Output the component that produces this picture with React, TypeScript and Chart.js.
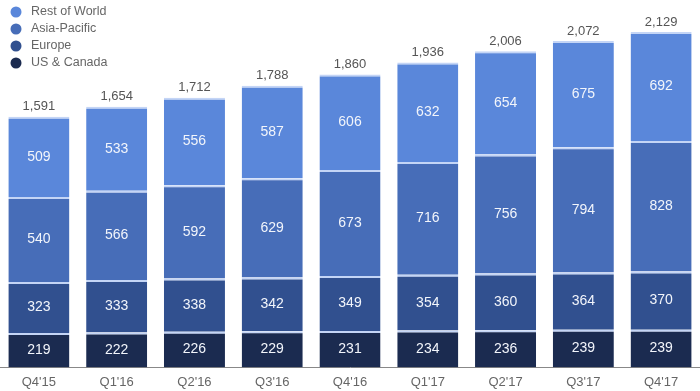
import React, { useEffect, useRef } from "react";
import { Chart, registerables } from "chart.js";

Chart.register(...registerables);

const categories = ["Q4'15", "Q1'16", "Q2'16", "Q3'16", "Q4'16", "Q1'17", "Q2'17", "Q3'17", "Q4'17"];
const usCanada = [219, 222, 226, 229, 231, 234, 236, 239, 239];
const europe = [323, 333, 338, 342, 349, 354, 360, 364, 370];
const asiaPacific = [540, 566, 592, 629, 673, 716, 756, 794, 828];
const restOfWorld = [509, 533, 556, 587, 606, 632, 654, 675, 692];
const totals = [1591, 1654, 1712, 1788, 1860, 1936, 2006, 2072, 2129];

const COLORS = {
  row: "#5a87da",
  ap: "#476db8",
  eu: "#31508f",
  us: "#1b2b50",
};

const FONT = "'Liberation Sans', Arial, Helvetica, sans-serif";

const labelPlugin = {
  id: "labels",
  afterDatasetsDraw(chart: any) {
    const ctx = chart.ctx;
    ctx.save();
    ctx.textAlign = "center";
    ctx.textBaseline = "middle";
    chart.data.datasets.forEach((ds: any, di: number) => {
      const meta = chart.getDatasetMeta(di);
      meta.data.forEach((bar: any, i: number) => {
        const v = ds.data[i];
        const cy = (bar.y + bar.base) / 2;
        ctx.fillStyle = "#f2f5fb";
        ctx.font = `14px ${FONT}`;
        ctx.fillText(String(v), bar.x, cy);
      });
    });
    const topMeta = chart.getDatasetMeta(chart.data.datasets.length - 1);
    topMeta.data.forEach((bar: any, i: number) => {
      ctx.fillStyle = "#555555";
      ctx.font = `13px ${FONT}`;
      ctx.fillText(totals[i].toLocaleString("en-US"), bar.x, bar.y - 10);
    });
    // legend
    const items = [
      { label: "Rest of World", color: COLORS.row },
      { label: "Asia-Pacific", color: COLORS.ap },
      { label: "Europe", color: COLORS.eu },
      { label: "US & Canada", color: COLORS.us },
    ];
    items.forEach((it, k) => {
      const y = 12 + k * 17;
      ctx.beginPath();
      ctx.fillStyle = it.color;
      ctx.arc(16, y, 5.5, 0, Math.PI * 2);
      ctx.fill();
      ctx.fillStyle = "#666666";
      ctx.font = `12.5px ${FONT}`;
      ctx.textAlign = "left";
      ctx.fillText(it.label, 31, y);
    });
    ctx.restore();
  },
};

export default function App() {
  const ref = useRef<HTMLCanvasElement>(null);
  useEffect(() => {
    document.body.style.margin = "0";
    const mk = (label: string, data: number[], color: string) => ({
      label,
      data,
      backgroundColor: color,
      borderColor: "rgba(190,208,245,0.9)",
      borderWidth: { top: 2, bottom: 0, left: 0, right: 0 },
      borderSkipped: false,
      barPercentage: 0.785,
      categoryPercentage: 1,
    });
    const chart = new Chart(ref.current!, {
      type: "bar",
      data: {
        labels: categories,
        datasets: [
          mk("US & Canada", usCanada, COLORS.us),
          mk("Europe", europe, COLORS.eu),
          mk("Asia-Pacific", asiaPacific, COLORS.ap),
          mk("Rest of World", restOfWorld, COLORS.row),
        ],
      },
      options: {
        animation: false,
        responsive: false,
        maintainAspectRatio: false,
        layout: { padding: { top: 0, bottom: -6, left: 0, right: 0 } },
        plugins: { legend: { display: false }, tooltip: { enabled: false } },
        scales: {
          x: {
            stacked: true,
            grid: { display: false, drawTicks: false },
            border: { display: true, color: "#888888", width: 1 },
            ticks: { color: "#666666", font: { size: 13, family: FONT }, padding: 7, maxRotation: 0 },
          },
          y: {
            stacked: true,
            display: false,
            min: 0,
            max: 2332,
          },
        },
      },
      plugins: [labelPlugin],
    });
    return () => chart.destroy();
  }, []);
  return (
    <div style={{ width: 700, height: 391, background: "#fff" }}>
      <canvas ref={ref} width={700} height={391} />
    </div>
  );
}
